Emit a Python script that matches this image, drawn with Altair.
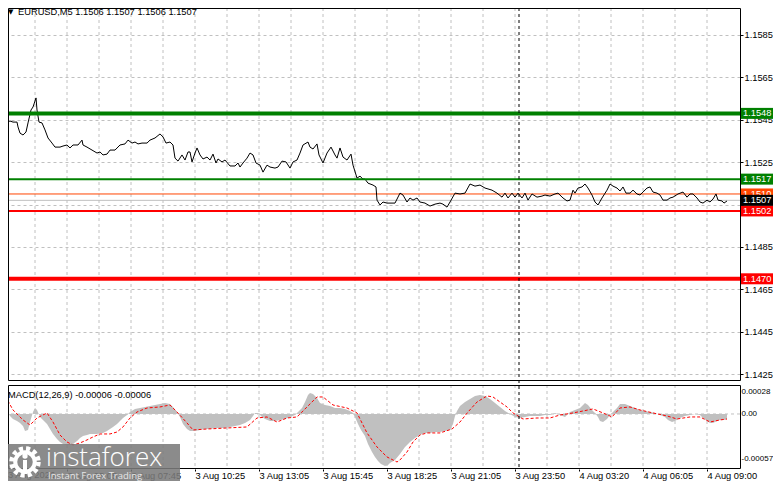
import altair as alt
import pandas as pd

# ---------------- data ----------------
price_bar = [0, 2, 3.5, 5, 7, 7.5, 8.5, 10, 11.5, 12.5,
             14, 15, 16.5, 17, 18, 19.5, 21, 22.5, 24.5, 26,
             28.5, 30, 32, 33.5, 35, 37.5, 39.5, 40, 42, 44.5,
             47, 48.5, 50, 52, 53.5, 56, 58.5, 61, 62.5, 64.5,
             66, 67.5, 69.5, 72, 73.5, 76, 78.5, 80, 81.5, 83.5,
             85, 86, 87.5, 89.5, 91, 92.5, 93.5, 94.5, 96, 97,
             98.5, 100, 102, 103.5, 105, 106.5, 107.5, 109.5, 111, 113.5,
             116, 117.5, 118.5, 120, 122, 123.5, 125, 126.5, 128.5, 130,
             132, 133.5, 136, 137.5, 139.5, 141.5, 143.5, 145, 147, 148.5,
             150, 152.5, 153.5, 155, 157, 158, 160, 162, 164, 166,
             167, 168.5, 170, 172, 174, 175, 177, 178.5, 180, 181,
             182.5, 185, 186.5, 187, 188.5, 190, 192, 193.5, 196, 198.5,
             200, 202, 203.5, 205, 207, 208.5, 211, 213.5, 216, 218.5,
             220, 222, 223.5, 226, 228.5, 231, 233.5, 236, 238.5, 241,
             244.5, 247, 249.5, 251, 252.5, 254.5, 256, 257.5, 259.5, 261,
             262.5, 264.5, 267, 269.5, 271, 273.5, 276, 277.5, 280, 282,
             283.5, 285, 286, 287.5, 289.5, 291, 292.5, 294.5, 296, 297.5,
             299.5, 302, 303.5, 305, 307, 308.5, 310, 311.5, 313.5, 315,
             317, 318.5, 320, 322, 323.5, 325, 327, 328.5, 330, 332,
             333.5, 335, 337.5, 340, 342, 343.5, 345, 347, 348.5, 350,
             352, 353.5, 355, 356.5, 357.5, 359.5, 360.5, 362]
price_val = [1.15439, 1.15439, 1.15444, 1.15439, 1.15439, 1.15416, 1.15387, 1.15378, 1.15392, 1.15435,
             1.15496, 1.15510, 1.15553, 1.15496, 1.15439, 1.15435, 1.15402, 1.15364, 1.15340, 1.15321,
             1.15321, 1.15326, 1.15331, 1.15317, 1.15331, 1.15331, 1.15354, 1.15331, 1.15321, 1.15307,
             1.15293, 1.15298, 1.15284, 1.15288, 1.15307, 1.15307, 1.15331, 1.15336, 1.15354, 1.15340,
             1.15345, 1.15336, 1.15340, 1.15340, 1.15354, 1.15364, 1.15383, 1.15369, 1.15340, 1.15345,
             1.15331, 1.15269, 1.15255, 1.15284, 1.15260, 1.15298, 1.15298, 1.15251, 1.15293, 1.15317,
             1.15284, 1.15265, 1.15274, 1.15260, 1.15288, 1.15246, 1.15265, 1.15251, 1.15260, 1.15232,
             1.15232, 1.15246, 1.15227, 1.15246, 1.15269, 1.15293, 1.15284, 1.15246, 1.15236, 1.15203,
             1.15236, 1.15227, 1.15222, 1.15227, 1.15255, 1.15251, 1.15222, 1.15251, 1.15260, 1.15293,
             1.15331, 1.15345, 1.15321, 1.15312, 1.15336, 1.15284, 1.15246, 1.15293, 1.15321, 1.15284,
             1.15269, 1.15317, 1.15274, 1.15260, 1.15288, 1.15236, 1.15175, 1.15184, 1.15170, 1.15170,
             1.15151, 1.15142, 1.15133, 1.15071, 1.15048, 1.15062, 1.15057, 1.15057, 1.15057, 1.15104,
             1.15095, 1.15062, 1.15081, 1.15071, 1.15081, 1.15062, 1.15057, 1.15043, 1.15052, 1.15057,
             1.15052, 1.15038, 1.15062, 1.15104, 1.15100, 1.15104, 1.15147, 1.15137, 1.15142, 1.15128,
             1.15118, 1.15104, 1.15085, 1.15104, 1.15081, 1.15104, 1.15085, 1.15104, 1.15081, 1.15104,
             1.15071, 1.15100, 1.15085, 1.15090, 1.15095, 1.15090, 1.15100, 1.15104, 1.15081, 1.15067,
             1.15071, 1.15118, 1.15104, 1.15128, 1.15133, 1.15147, 1.15128, 1.15095, 1.15062, 1.15048,
             1.15081, 1.15118, 1.15147, 1.15137, 1.15128, 1.15114, 1.15133, 1.15104, 1.15104, 1.15118,
             1.15100, 1.15095, 1.15109, 1.15128, 1.15133, 1.15109, 1.15104, 1.15095, 1.15071, 1.15071,
             1.15081, 1.15085, 1.15100, 1.15109, 1.15085, 1.15100, 1.15100, 1.15081, 1.15062, 1.15057,
             1.15071, 1.15062, 1.15076, 1.15100, 1.15071, 1.15067, 1.15057, 1.15067]

hist_bar = [0, 1, 2, 3.5, 5, 7, 8.5, 10, 11, 12.5,
            13.5, 15, 16, 17, 18.5, 20, 22, 23.5, 25, 27,
            28.5, 30, 32, 33.5, 35, 37, 38.5, 40, 42, 43.5,
            45, 47, 48.5, 50, 52, 53.5, 55, 57, 58.5, 60,
            62, 63.5, 66, 68.5, 71, 73.5, 76, 78.5, 81, 83.5,
            85, 87, 88.5, 90, 92, 93.5, 96, 98.5, 101, 103.5,
            106, 108.5, 111, 113.5, 116, 118.5, 121, 123.5, 125, 126,
            127.5, 129.5, 131, 133.5, 136, 138.5, 141, 143.5, 146, 147.5,
            149.5, 151, 152.5, 153.5, 155, 157, 158.5, 161, 163.5, 166,
            168.5, 171, 173.5, 175, 176, 177.5, 179, 181, 182.5, 184.5,
            186, 187.5, 189, 191, 192.5, 193.5, 196, 198.5, 201, 203.5,
            206, 208.5, 211, 213.5, 216, 218.5, 221, 223.5, 225, 226,
            227, 228.5, 231, 233.5, 236, 238.5, 241, 243.5, 246, 248.5,
            251, 253.5, 256, 258.5, 261, 263.5, 266, 268.5, 271, 273.5,
            276, 278.5, 281, 283.5, 286, 288.5, 291, 292.5, 294.5, 296,
            297.5, 298.5, 300, 302, 303.5, 305, 307, 308.5, 311, 313.5,
            316, 318.5, 321, 323.5, 326, 328.5, 331, 332.5, 334.5, 336,
            338.5, 341, 343.5, 346, 348.5, 350, 352, 353.5, 355, 357,
            358.5, 360.5, 362]
hist_val = [0.000089, 0.000076, 0.000051, -0.000025, -0.000064, -0.000089, -0.000114, -0.000152, -0.000216, -0.000203,
            -0.000102, 0.000025, 0.000076, 0.000051, -0.000038, -0.000076, -0.000127, -0.000191, -0.000254, -0.000318,
            -0.000356, -0.000381, -0.000394, -0.000394, -0.000381, -0.000343, -0.000305, -0.000279, -0.000267, -0.000254,
            -0.000254, -0.000254, -0.000241, -0.000241, -0.000216, -0.000191, -0.000165, -0.000127, -0.000089, -0.000051,
            -0.000013, 0.000025, 0.000064, 0.000076, 0.000089, 0.000102, 0.000114, 0.000127, 0.000140, 0.000127,
            0.000089, 0.000025, -0.000038, -0.000127, -0.000191, -0.000216, -0.000216, -0.000203, -0.000191, -0.000191,
            -0.000178, -0.000178, -0.000178, -0.000165, -0.000152, -0.000140, -0.000114, -0.000076, -0.000025, 0.000013,
            0.000013, -0.000038, -0.000064, -0.000089, -0.000089, -0.000076, -0.000064, -0.000038, -0.000013, 0.000025,
            0.000076, 0.000152, 0.000241, 0.000267, 0.000254, 0.000203, 0.000140, 0.000114, 0.000102, 0.000076,
            0.000076, 0.000064, 0.000038, 0.000013, -0.000038, -0.000127, -0.000203, -0.000279, -0.000381, -0.000483,
            -0.000546, -0.000597, -0.000635, -0.000660, -0.000648, -0.000622, -0.000584, -0.000508, -0.000419, -0.000356,
            -0.000305, -0.000267, -0.000241, -0.000241, -0.000229, -0.000229, -0.000216, -0.000203, -0.000127, -0.000025,
            0.000038, 0.000102, 0.000152, 0.000191, 0.000229, 0.000241, 0.000229, 0.000191, 0.000140, 0.000089,
            0.000038, 0.0, -0.000038, -0.000051, -0.000038, -0.000025, -0.000025, -0.000025, -0.000013, -0.000013,
            0.000013, -0.000013, -0.000038, 0.000025, 0.000051, 0.000076, 0.000140, 0.000114, 0.000051, 0.000013,
            -0.000038, -0.000089, -0.000102, -0.000064, -0.000013, 0.000025, 0.000076, 0.000127, 0.000127, 0.000102,
            0.000076, 0.000051, 0.000038, 0.000025, 0.000013, -0.000013, -0.000038, -0.000076, -0.000102, -0.000089,
            -0.000051, -0.000025, -0.000013, 0.0, -0.000013, -0.000051, -0.000089, -0.000114, -0.000114, -0.000089,
            -0.000076, -0.000076, -0.000064]

sig_bar = [0, 5, 10, 13.5, 17, 22, 25, 28.5, 32, 35,
           38.5, 42, 45, 48.5, 53.5, 57, 60, 63.5, 67, 72,
           78.5, 83.5, 87, 92, 95, 102, 112, 122, 127, 132,
           137, 142, 147, 152, 157, 160, 165, 172, 177, 182,
           187, 192, 197, 198.5, 202, 205, 208.5, 212, 218.5, 224.5,
           228.5, 232.5, 237, 242, 245, 248.5, 252, 255, 260, 267,
           273.5, 278.5, 285, 290, 295, 300, 304.5, 308.5, 313.5, 318.5,
           325, 332, 337, 343.5, 348.5, 353.5, 358.5, 362]
sig_val = [0.000279, 0.000051, -0.000076, -0.000140, -0.000051, 0.000013, -0.000102, -0.000267, -0.000356, -0.000394,
           -0.000368, -0.000330, -0.000292, -0.000254, -0.000254, -0.000229, -0.000165, -0.000051, 0.000025, 0.000076,
           0.000089, 0.000114, 0.000025, -0.000114, -0.000203, -0.000191, -0.000178, -0.000165, -0.000051, -0.000038,
           -0.000102, -0.000051, -0.000038, 0.000089, 0.000216, 0.000216, 0.000114, 0.000076, 0.000013, -0.000241,
           -0.000419, -0.000546, -0.000610, -0.000584, -0.000483, -0.000356, -0.000267, -0.000241, -0.000241, -0.000191,
           -0.000102, 0.000025, 0.000152, 0.000229, 0.000216, 0.000152, 0.000089, 0.000013, -0.000064, -0.000051,
           -0.000051, -0.000013, 0.000013, 0.000038, 0.000064, 0.000013, -0.000038, 0.000076, 0.000089, 0.000051,
           0.000013, -0.000025, -0.000064, -0.000038, -0.000038, -0.000102, -0.000076, -0.000064]

level_price = [1.1548, 1.1517, 1.1510, 1.1502, 1.1470]
level_line_color = ["#008000", "#008000", "#ff4500", "#ff0000", "#ff0000"]
level_width = [4, 2, 1, 2, 4]
level_box_color = ["#008000", "#008000", "#ff4500", "#ff0000", "#ff0000"]
bid_price = [1.1507]

price_ticks = [1.1425, 1.1445, 1.1465, 1.1485, 1.1505, 1.1525, 1.1545, 1.1565, 1.1585]
macd_ticks = [0.00028, 0.0, -0.00057]
macd_tick_labels = ["0.00028", "0.00", "-0.00057"]
time_bars = [0, 32, 64, 96, 128, 160, 192, 224, 256, 288, 320, 352]
time_labels = ["3 Aug 2026", "3 Aug 05:05", "3 Aug 07:45", "3 Aug 10:25", "3 Aug 13:05",
               "3 Aug 15:45", "3 Aug 18:25", "3 Aug 21:05", "3 Aug 23:50", "4 Aug 03:20",
               "4 Aug 06:05", "4 Aug 09:00"]
grid_bars = [16, 32, 48, 64, 80, 96, 112, 128, 144, 160, 176, 192, 208, 224, 240,
             256, 272, 288, 304, 320, 336, 352]
cursor_bar = [258]
title_text = "EURUSD,M5  1.1506 1.1507 1.1506 1.1507"
macd_text = "MACD(12,26,9) -0.00006 -0.00006"

# ---------------- layout / style ----------------
W = 732           # plot width
HP = 373          # price panel height
GAP = 4
HM = 84           # MACD panel height
MT = HP + GAP     # MACD panel top
H = MT + HM       # total plot height
FONT = "Liberation Sans"
FS = 9.3
GRID = "#c0c0c0"

df_price = pd.DataFrame({"bar": price_bar, "price": price_val})
df_hist = pd.DataFrame({"bar": hist_bar, "macd": hist_val})
df_sig = pd.DataFrame({"bar": sig_bar, "macd": sig_val})
df_grid = pd.DataFrame({"bar": grid_bars})
df_cursor = pd.DataFrame({"bar": cursor_bar})
df_lv = pd.DataFrame({"price": level_price, "line": level_line_color, "w": level_width,
                      "box": level_box_color, "label": [f"{p:.4f}" for p in level_price]})
df_thin = df_lv[df_lv["w"] == 1]
df_thick = df_lv[df_lv["w"] > 1]
df_bid = pd.DataFrame({"price": bid_price, "label": [f"{p:.4f}" for p in bid_price]})
df_zero = pd.DataFrame({"macd": [0.0]})
one = pd.DataFrame({"k": [0]})

xs = alt.Scale(domain=[2.5, 368.5], nice=False, zero=False)
ps = alt.Scale(domain=[1.14218, 1.15977], range=[HP, 0], nice=False, zero=False)
ms = alt.Scale(domain=[-0.000699, 0.000368], range=[H, MT], nice=False, zero=False)

x_axis = alt.Axis(orient="bottom", values=time_bars[1:], grid=False, domain=False, tickSize=2,
                  labelAlign="left", labelPadding=0, labelOverlap=False, labelFlush=False,
                  labelExpr="[" + ",".join(repr(s) for s in time_labels[1:]) + "][indexof(["
                  + ",".join(str(b) for b in time_bars[1:]) + "], datum.value)]")
p_axis = alt.Axis(orient="right", values=price_ticks, grid=True, gridColor=GRID, gridDash=[3, 3],
                  tickSize=3, labelPadding=1, domain=False,
                  labelExpr="datum.value == 1.1505 ? '' : format(datum.value, '.4f')")
m_axis = alt.Axis(orient="right", values=macd_ticks, grid=False, tickSize=0, labelPadding=1, domain=False,
                  labelFontSize=8,
                  labelExpr="[" + ",".join(repr(s) for s in macd_tick_labels) + "][indexof(["
                  + ",".join(repr(v) for v in macd_ticks) + "], datum.value)]")

X = alt.X("bar:Q", scale=xs, axis=x_axis, title=None)


def PY(f, ax=None):
    if ax is None:
        return alt.Y(f + ":Q", scale=ps, axis=None, title=None)
    return alt.Y(f + ":Q", scale=ps, axis=ax, title=None)


def MY(f, ax=None):
    if ax is None:
        return alt.Y(f + ":Q", scale=ms, axis=None, title=None)
    return alt.Y(f + ":Q", scale=ms, axis=ax, title=None)


dash = [3, 3]
layers = []
# vertical grid lines, one set per panel
layers.append(alt.Chart(df_grid).mark_rule(color=GRID, strokeDash=dash, strokeWidth=1).encode(
    x=X, y=alt.value(0), y2=alt.value(HP)))
layers.append(alt.Chart(df_grid).mark_rule(color=GRID, strokeDash=dash, strokeWidth=1).encode(
    x=X, y=alt.value(MT), y2=alt.value(H)))
# MACD panel
layers.append(alt.Chart(df_zero).mark_rule(color=GRID, strokeDash=dash, strokeWidth=1).encode(y=MY("macd")))
layers.append(alt.Chart(df_hist).mark_area(color="#c0c0c0", opacity=1, clip=True).encode(
    x=X, y=MY("macd", m_axis), y2=alt.datum(0)))
layers.append(alt.Chart(df_sig).mark_line(color="#ff0000", strokeDash=[3, 2], strokeWidth=1, clip=True).encode(
    x=X, y=MY("macd")))
# price panel
layers.append(alt.Chart(df_thin).mark_rule().encode(
    y=PY("price"), color=alt.Color("line:N", scale=None), strokeWidth=alt.StrokeWidth("w:Q", scale=None)))
layers.append(alt.Chart(df_bid).mark_rule(color="#c0c0c0", strokeWidth=1).encode(y=PY("price")))
layers.append(alt.Chart(df_price).mark_line(color="black", strokeWidth=1, clip=True).encode(
    x=X, y=PY("price", p_axis)))
layers.append(alt.Chart(df_thick).mark_rule().encode(
    y=PY("price"), color=alt.Color("line:N", scale=None), strokeWidth=alt.StrokeWidth("w:Q", scale=None)))
# dashed cursor line through both panels
layers.append(alt.Chart(df_cursor).mark_rule(color="black", strokeDash=dash, strokeWidth=1).encode(
    x=X, y=alt.value(0), y2=alt.value(H)))
# panel frames
layers.append(alt.Chart(one).mark_rect(filled=False, color="black", strokeWidth=1).encode(
    x=alt.value(0.5), x2=alt.value(W + 0.5), y=alt.value(0.5), y2=alt.value(HP - 0.5)))
layers.append(alt.Chart(one).mark_rect(filled=False, color="black", strokeWidth=1).encode(
    x=alt.value(0.5), x2=alt.value(W + 0.5), y=alt.value(MT + 0.5), y2=alt.value(H - 0.5)))
# price-level tags on the right
layers.append(alt.Chart(df_lv).mark_tick(orient="horizontal", size=32, thickness=11, opacity=1).encode(
    y=PY("price"), x=alt.value(W + 17), color=alt.Color("box:N", scale=None)))
layers.append(alt.Chart(df_lv).mark_text(align="left", baseline="middle", color="white", font=FONT,
                                         fontSize=FS).encode(y=PY("price"), x=alt.value(W + 3), text="label:N"))
layers.append(alt.Chart(df_bid).mark_tick(orient="horizontal", size=32, thickness=11, opacity=1,
                                          color="black").encode(y=PY("price"), x=alt.value(W + 17)))
layers.append(alt.Chart(df_bid).mark_text(align="left", baseline="middle", color="white", font=FONT,
                                          fontSize=FS).encode(y=PY("price"), x=alt.value(W + 3), text="label:N"))
# titles
layers.append(alt.Chart(one).mark_text(align="left", baseline="middle", color="black", font="DejaVu Sans",
                                       fontSize=7).encode(x=alt.value(0), y=alt.value(4), text=alt.value("▼")))
layers.append(alt.Chart(one).mark_text(align="left", baseline="middle", color="black", font=FONT,
                                       fontSize=FS).encode(x=alt.value(10), y=alt.value(4),
                                                           text=alt.value(title_text)))
layers.append(alt.Chart(one).mark_text(align="left", baseline="middle", color="black", font=FONT,
                                       fontSize=FS).encode(x=alt.value(0), y=alt.value(MT + 10),
                                                           text=alt.value(macd_text)))
layers.append(alt.Chart(one).mark_text(align="left", baseline="top", color="black", font=FONT,
                                       fontSize=FS).encode(x=alt.value(0), y=alt.value(H + 2),
                                                           text=alt.value(time_labels[0])))
# watermark overlay (bottom-left)
layers.append(alt.Chart(one).mark_rect(color="#7b7b7b", opacity=0.88).encode(
    x=alt.value(0), x2=alt.value(172), y=alt.value(436), y2=alt.value(473)))
layers.append(alt.Chart(one).mark_point(shape="circle", filled=False, stroke="white", strokeWidth=5,
                                        strokeDash=[4, 3], size=700, opacity=1).encode(
    x=alt.value(17), y=alt.value(454)))
layers.append(alt.Chart(one).mark_point(shape="circle", filled=False, stroke="white", strokeWidth=4,
                                        size=380, opacity=1).encode(x=alt.value(17), y=alt.value(454)))
layers.append(alt.Chart(one).mark_point(shape="circle", filled=True, color="white", size=28, opacity=1).encode(
    x=alt.value(17), y=alt.value(448)))
layers.append(alt.Chart(one).mark_rect(color="white").encode(
    x=alt.value(15), x2=alt.value(19), y=alt.value(452), y2=alt.value(466)))
layers.append(alt.Chart(one).mark_text(align="left", baseline="alphabetic", color="white", font="Open Sans",
                                       fontWeight=300, fontSize=26).encode(
    x=alt.value(38), y=alt.value(458), text=alt.value("instaforex")))
layers.append(alt.Chart(one).mark_text(align="left", baseline="alphabetic", color="#e6e6e6", font="Open Sans",
                                       fontSize=9.5).encode(
    x=alt.value(40), y=alt.value(471), text=alt.value("Instant Forex Trading")))

chart = alt.layer(*layers).resolve_scale(y="independent").properties(
    width=W, height=H,
    autosize=alt.AutoSizeParams(type="none"),
    padding={"left": 0, "top": 0, "right": 33, "bottom": 12},
    background="white",
).configure_view(strokeWidth=0).configure_axis(
    labelFont=FONT, labelFontSize=FS, labelColor="black", tickColor="black"
)

chart.save("out.html", embed_options={"renderer": "svg", "actions": False})
